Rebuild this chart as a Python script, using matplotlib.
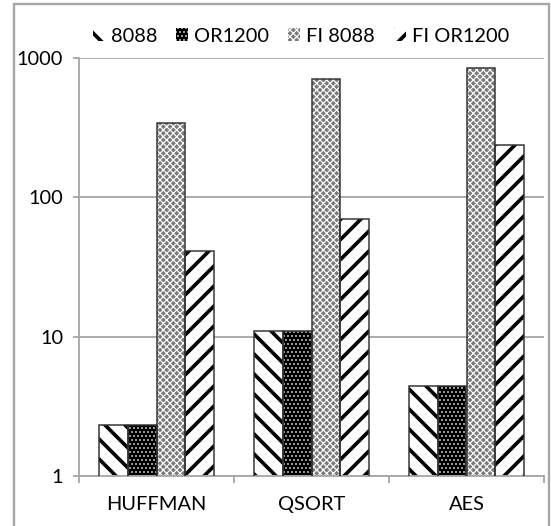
import matplotlib
matplotlib.use("Agg")
import matplotlib.pyplot as plt
import numpy as np
from matplotlib.patches import Rectangle, Patch

# data
benchmarks = ["HUFFMAN", "QSORT", "AES"]
series_names = ["8088", "OR1200", "FI 8088", "FI OR1200"]
v_8088 = [2.32, 11.0, 4.4]
v_or1200 = [2.32, 11.0, 4.4]
v_fi_8088 = [342, 708, 852]
v_fi_or1200 = [41.2, 70, 236]
y_ticks = [1, 10, 100, 1000]

DPI = 120
plt.rcParams['font.family'] = ['Lato', 'DejaVu Sans']
plt.rcParams['hatch.linewidth'] = 2.0

fig = plt.figure(figsize=(551 / DPI, 526 / DPI), dpi=DPI)
ax = fig.add_axes([79 / 551, 1 - 476 / 526, (544 - 79) / 551, (476 - 58) / 526])

grey = "#a6a6a6"
x = np.arange(len(benchmarks))
bw = 0.184

# (facecolor, hatch colour, hatch, hatch linewidth)
styles = [
    ("white", "black", "\\\\", 2.2),
    ("black", "white", ".....", 0.5),
    ("#7a7a7a", "white", "xxxxxx", 0.7),
    ("white", "black", "//", 2.2),
]
all_vals = [v_8088, v_or1200, v_fi_8088, v_fi_or1200]


def set_hlw(p, lw):
    if hasattr(p, "set_hatch_linewidth"):
        p.set_hatch_linewidth(lw)


handles = []
for i, (vals, (fc, hc, hatch, hlw)) in enumerate(zip(all_vals, styles)):
    pos = x + (i - 1.5) * bw
    bars = ax.bar(pos, vals, width=bw, bottom=0, facecolor=fc, edgecolor=hc,
                  hatch=hatch, linewidth=0, zorder=2)
    for b in bars:
        set_hlw(b, hlw)
    # outline on top
    ax.bar(pos, vals, width=bw, fill=False, edgecolor="#333333", linewidth=0.9, zorder=3)
    handles.append(Patch(facecolor=fc, edgecolor=hc, hatch=hatch, linewidth=0))

ax.set_yscale("log")
ax.set_ylim(1, 1000)
ax.set_yticks(y_ticks)
ax.set_yticklabels([str(t) for t in y_ticks])
ax.minorticks_off()
ax.yaxis.grid(True, color=grey, linewidth=1.1, zorder=0)
ax.set_axisbelow(True)

ax.set_xlim(-0.5, len(benchmarks) - 0.5)
ax.set_xticks(x)
ax.set_xticklabels(benchmarks)
ax.tick_params(axis="x", length=0, pad=12, labelsize=12)
# category boundary ticks
ax.set_xticks(np.arange(len(benchmarks) + 1) - 0.5, minor=True)
ax.tick_params(axis="x", which="minor", length=4, color=grey, width=1.1)
ax.tick_params(axis="y", length=3.6, color=grey, width=1.1, pad=6, labelsize=12)

for s in ["top", "right"]:
    ax.spines[s].set_visible(False)
for s in ["left", "bottom"]:
    ax.spines[s].set_color(grey)
    ax.spines[s].set_linewidth(1.1)

leg = ax.legend(handles, series_names, loc="center", bbox_to_anchor=(0.477, 1.052),
                ncol=4, frameon=False, fontsize=12, handlelength=0.6, handleheight=0.6,
                handletextpad=0.3, columnspacing=0.95)
for p, st in zip(leg.get_patches(), styles):
    set_hlw(p, st[3])

# outer chart-area border
fig.patches.append(Rectangle((14 / 551, -0.05), (549 - 14) / 551, 1 - 4 / 526 + 0.05,
                             transform=fig.transFigure, fill=False,
                             edgecolor=grey, linewidth=1.4))

fig.savefig("out.png", dpi=DPI)
